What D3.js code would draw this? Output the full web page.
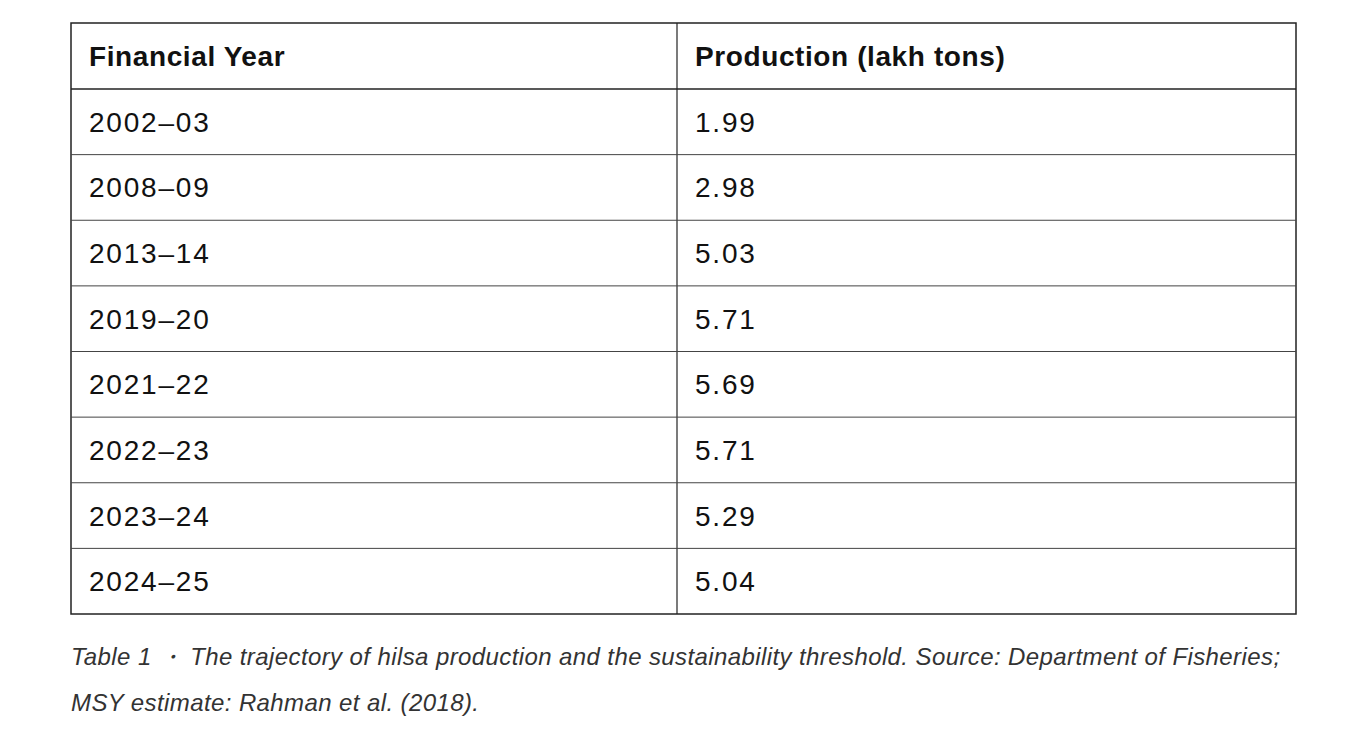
<!DOCTYPE html>
<html><head><meta charset="utf-8">
<script src="https://cdn.jsdelivr.net/npm/d3@7"></script>
<style>body{margin:0;background:#fff;font-family:"Liberation Sans",Arial,sans-serif}</style>
</head><body><svg id="c" width="1366" height="749"></svg>
<script>
var headers = ["Financial Year", "Production (lakh tons)"];
var years = ["2002–03","2008–09","2013–14","2019–20","2021–22","2022–23","2023–24","2024–25"];
var production = ["1.99","2.98","5.03","5.71","5.69","5.71","5.29","5.04"];
var captionLines = ["Table 1 ・ The trajectory of hilsa production and the sustainability threshold. Source: Department of Fisheries;",
  "MSY estimate: Rahman et al. (2018)."];

var svg = d3.select("#c");
var tLeft = 71, tRight = 1296, tMid = 677, tTop = 23, headBottom = 89, tBottom = 614;
var y = d3.scaleBand().domain(years).range([headBottom, tBottom]);
var g = svg.append("g");
// outer border and header separator
g.append("rect").attr("x", tLeft).attr("y", tTop).attr("width", tRight - tLeft).attr("height", tBottom - tTop)
  .attr("fill", "none").attr("stroke", "#222").attr("stroke-width", 1.5);
g.append("line").attr("x1", tLeft).attr("x2", tRight).attr("y1", headBottom).attr("y2", headBottom).attr("stroke", "#222").attr("stroke-width", 1.5);
g.append("line").attr("x1", tMid).attr("x2", tMid).attr("y1", tTop).attr("y2", tBottom).attr("stroke", "#222").attr("stroke-width", 1.2);
g.selectAll(".rl").data(years.slice(1)).enter().append("line")
  .attr("x1", tLeft).attr("x2", tRight).attr("y1", function (d) { return y(d); }).attr("y2", function (d) { return y(d); })
  .attr("stroke", "#444").attr("stroke-width", 1);
// header
g.selectAll(".h").data(headers).enter().append("text")
  .attr("x", function (d, i) { return (i ? tMid : tLeft) + 18; })
  .attr("y", (tTop + headBottom) / 2 + 10).attr("font-size", 28).attr("font-weight", "bold").attr("fill", "#111")
  .attr("letter-spacing", 0.6)
  .text(function (d) { return d; });
// body
years.forEach(function (yr, i) {
  var cy = y(yr) + y.bandwidth() / 2 + 10;
  g.append("text").attr("x", tLeft + 18).attr("y", cy).attr("font-size", 28).attr("letter-spacing", 1.8).attr("fill", "#111").text(yr);
  g.append("text").attr("x", tMid + 18).attr("y", cy).attr("font-size", 28).attr("letter-spacing", 1.8).attr("fill", "#111").text(production[i]);
});
// caption
svg.selectAll(".cap").data(captionLines).enter().append("text")
  .attr("x", tLeft).attr("y", function (d, i) { return 665 + i * 46; })
  .attr("font-size", 24).attr("font-style", "italic").attr("fill", "#333").attr("letter-spacing", 0.4)
  .text(function (d) { return d; });
</script></body></html>
